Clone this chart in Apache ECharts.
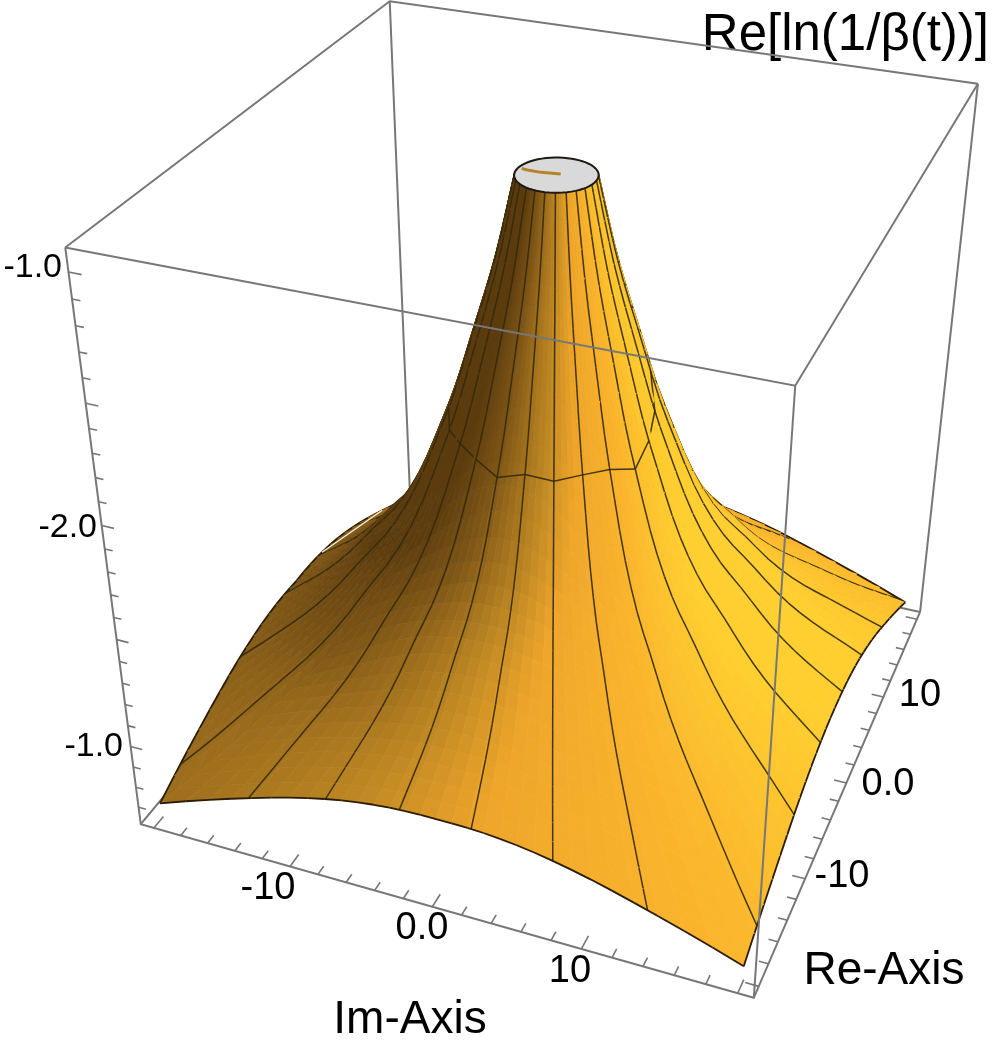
<!DOCTYPE html>
<html>
<head>
<meta charset="utf-8">
<style>
  html, body { margin: 0; background: #fff; }
  #chart-panel { width: 1000px; height: 1048px; }
</style>
<script src="https://cdn.jsdelivr.net/npm/echarts@6/dist/echarts.min.js"></script>
</head>
<body>
<div id="chart-panel"></div>
<script>
// values
const imTicks = [-10, 0, 10];
const imTickLabels = ['-10', '0.0', '10'];
const reTicks = [-10, 0, 10];
const reTickLabels = ['-10', '0.0', '10'];
const zTicks = [-3, -2, -1];
const zTickLabels = ['-1.0', '-2.0', '-1.0'];

// height of the surface against distance from the centre of the Im/Re plane
const profileRho = [2.55, 3.8, 5.4, 6.5, 7.4, 9.2, 11, 13, 15, 17, 20, 24, 28.3];
const profileZ = [-0.97, -1.3, -1.63, -1.85, -2.0, -2.27, -2.46, -2.6, -2.74, -2.85, -2.98, -3.15, -3.31];
// how far the outer part of each side sits off that profile
const trimAngles = [-180, -135, -90, -45, 0, 45, 90, 135, 180];
const trimZ = [0, 0, -0.05, 0, -0.03, 0, 0, 0, 0];

// radial mesh lines (degrees, 0 = towards Re-, positive towards Im+), at the rim and at the outer edge
const rayAngles = [-181.3, -166.9, -152.5, -138.1, -123.7, -109.3, -94.9, -80.5, -66.1, -51.7, -37.3, -22.9, -8.5,
  5.9, 20.3, 34.7, 49.1, 63.5, 77.9, 92.3, 106.7, 121.1, 135.5, 149.9, 164.3];
const rayEdgeAngles = [-181.3, -166.9, -152.5, -138.1, -127, -115, -100, -85, -67, -49.3, -33.5, -20.9, -7.1,
  6.7, 21.1, 34.7, 48.8, 63.2, 77.6, 92.3, 106.7, 121.1, 135.5, 149.9, 164.3];
// the ring contour, one radius per radial line
const ringRho = [6, 6, 6, 6, 6, 6.0, 6.4, 6.6, 6.9, 7.1, 7.1, 7.2, 7.4, 7.2, 7.3, 7.2, 7.2, 7.4, 7.0, 6.6,
  6.0, 6, 6, 6, 6];
const streakIm = [-2.3, -1.8, -1.0, 0.2];
const streakRe = [0.1, 0.0, 0.0, 0.2];
const sliverRe = [4, 14];

const surfaceHalf = 20;
const boxHalf = 21;
const zMin = -3.385, zMax = -0.91;

// where the eight corners of the plot box sit on the page: X, Y, Z (0..1), u, v
const camera = [
  [0, 0, 0, 141, 824], [1, 0, 0, 754, 998], [1, 1, 0, 920, 612], [0, 1, 0, 410, 500],
  [0, 0, 1, 65, 248], [1, 0, 1, 795, 385], [1, 1, 1, 978, 84], [0, 1, 1, 390, 1]
];

function solve(A, b) {
  const n = b.length;
  for (let i = 0; i < n; i++) {
    let p = i;
    for (let r = i + 1; r < n; r++) if (Math.abs(A[r][i]) > Math.abs(A[p][i])) p = r;
    [A[i], A[p]] = [A[p], A[i]];
    [b[i], b[p]] = [b[p], b[i]];
    for (let r = i + 1; r < n; r++) {
      const f = A[r][i] / A[i][i];
      for (let c = i; c < n; c++) A[r][c] -= f * A[i][c];
      b[r] -= f * b[i];
    }
  }
  const x = new Array(n);
  for (let i = n - 1; i >= 0; i--) {
    let s = b[i];
    for (let c = i + 1; c < n; c++) s -= A[i][c] * x[c];
    x[i] = s / A[i][i];
  }
  return x;
}

function fitCamera() {
  const rows = [], rhs = [];
  camera.forEach(function (c) {
    const X = c[0], Y = c[1], Z = c[2], u = c[3], v = c[4];
    rows.push([X, Y, Z, 1, 0, 0, 0, 0, -u * X, -u * Y, -u * Z]); rhs.push(u);
    rows.push([0, 0, 0, 0, X, Y, Z, 1, -v * X, -v * Y, -v * Z]); rhs.push(v);
  });
  const N = [], y = [];
  for (let i = 0; i < 11; i++) {
    N.push([]);
    let s = 0;
    for (let j = 0; j < 11; j++) {
      let t = 0;
      rows.forEach(function (r) { t += r[i] * r[j]; });
      N[i].push(t);
    }
    rows.forEach(function (r, k) { s += r[i] * rhs[k]; });
    y.push(s);
  }
  return solve(N, y);
}
const P = fitCamera();

function project(im, re, z) {
  const X = (im + boxHalf) / (2 * boxHalf), Y = (re + boxHalf) / (2 * boxHalf), Z = (z - zMin) / (zMax - zMin);
  const w = P[8] * X + P[9] * Y + P[10] * Z + 1;
  return [(P[0] * X + P[1] * Y + P[2] * Z + P[3]) / w, (P[4] * X + P[5] * Y + P[6] * Z + P[7]) / w];
}

// view directions in box units, for depth sorting and light
const viewRight = [0.938, 0.346, 0], viewUp = [-0.191, 0.46, 0.867], viewToward = [0.30, -0.813, 0.497];
function depth(im, re, z) {
  return viewToward[0] * (im + boxHalf) / (2 * boxHalf) + viewToward[1] * (re + boxHalf) / (2 * boxHalf) +
    viewToward[2] * 0.964 * (z - zMin) / (zMax - zMin);
}

// smooth reading of the profile table
function slopeAt(i) {
  const a = Math.max(i - 1, 0), b = Math.min(i + 1, profileRho.length - 1);
  return (profileZ[b] - profileZ[a]) / (profileRho[b] - profileRho[a]);
}
function height(rho) {
  let i = 0;
  while (i < profileRho.length - 2 && rho > profileRho[i + 1]) i++;
  const h = profileRho[i + 1] - profileRho[i], t = (rho - profileRho[i]) / h;
  const m0 = slopeAt(i) * h, m1 = slopeAt(i + 1) * h;
  return (2 * t * t * t - 3 * t * t + 1) * profileZ[i] + (t * t * t - 2 * t * t + t) * m0 +
    (-2 * t * t * t + 3 * t * t) * profileZ[i + 1] + (t * t * t - t * t) * m1;
}
function trimAt(phi) {
  let a = phi;
  while (a < -180) a += 360;
  while (a > 180) a -= 360;
  const i = Math.min(Math.floor((a + 180) / 45), trimZ.length - 2);
  const t = (a - trimAngles[i]) / 45;
  return trimZ[i] + (trimZ[i + 1] - trimZ[i]) * t;
}

// brightness of a facet -> colour ramp of the orange surface
const rampStops = [0, 0.2, 0.45, 0.6, 0.8, 0.95];
const rampColors = [[92, 60, 14], [125, 85, 22], [190, 135, 35], [238, 165, 42], [250, 180, 44], [255, 207, 48]];

function shade(im, re) {
  const rho = Math.hypot(im, re);
  // slope over a wide window so the light stays smooth across the mesh
  const w = Math.max(0.1, 0.2 * rho);
  const d = (height(rho + w) - height(Math.max(rho - w, profileRho[0]))) / (rho + w - Math.max(rho - w, profileRho[0]));
  const g = d * (0.964 / (zMax - zMin)) * (2 * boxHalf);
  let n = [-g * im / rho, -g * re / rho, 1];
  const len = Math.hypot(n[0], n[1], n[2]);
  n = n.map(function (v) { return v / len; });
  const dot = function (a) { return a[0] * n[0] + a[1] * n[1] + a[2] * n[2]; };
  const L = 0.62 * dot(viewRight) + 0.35 * dot(viewUp) + 0.4 * dot(viewToward) + 0.17;
  let i = 0;
  while (i < rampStops.length - 2 && L > rampStops[i + 1]) i++;
  const t = Math.max(0, Math.min(1, (L - rampStops[i]) / (rampStops[i + 1] - rampStops[i])));
  const rgb = rampColors[i].map(function (c, k) { return Math.round(c + (rampColors[i + 1][k] - c) * t); });
  return 'rgb(' + rgb.join(',') + ')';
}

function edgeRho(phi) {
  const a = phi * Math.PI / 180;
  return surfaceHalf / Math.max(Math.abs(Math.sin(a)), Math.abs(Math.cos(a)));
}
function surfacePoint(phi, rho) {
  const a = phi * Math.PI / 180;
  const im = rho * Math.sin(a), re = -rho * Math.cos(a);
  const k = Math.min(1, rho / surfaceHalf);
  return [im, re, height(rho) + trimAt(phi) * k * k * k];
}
function rayPoint(i, t) {
  const phi = rayAngles[i] + (rayEdgeAngles[i] - rayAngles[i]) * t;
  return surfacePoint(phi, rimRho + (edgeRho(phi) - rimRho) * t);
}
function ringPoint(i) {
  const t = (ringRho[i] - rimRho) / (edgeRho(rayEdgeAngles[i]) - rimRho);
  return surfacePoint(rayAngles[i] + (rayEdgeAngles[i] - rayAngles[i]) * t, ringRho[i]);
}

const rimRho = profileRho[0];
const backMarks = [], surfaceMarks = [], frontMarks = [];
const boxColor = '#777', meshColor = 'rgba(52,42,14,0.92)';

function line(list, pts, color, width) {
  list.push({ kind: 'line', pts: pts, color: color, width: width });
}
function meshSegment(a, c, color, width) {
  surfaceMarks.push({
    kind: 'line', pts: [a, c], color: color, width: width,
    depth: depth((a[0] + c[0]) / 2, (a[1] + c[1]) / 2, (a[2] + c[2]) / 2) + 0.012
  });
}

// box edges behind and in front of the surface
const b = boxHalf;
line(backMarks, [[-b, -b, zMax], [-b, b, zMax], [b, b, zMax]], boxColor, 2);
line(backMarks, [[-b, b, zMax], [-b, b, zMin]], boxColor, 2);
line(backMarks, [[-b, -b, zMin], [-b, b, zMin], [b, b, zMin]], boxColor, 2);
line(backMarks, [[b, b, zMax], [b, b, zMin]], boxColor, 2);
line(backMarks, [[-b, -b, zMax], [-b, -b, zMin], [b, -b, zMin], [b, b, zMin]], boxColor, 2);
line(frontMarks, [[-b, -b, zMax], [b, -b, zMax], [b, b, zMax]], boxColor, 2);
line(frontMarks, [[b, -b, zMax], [b, -b, zMin]], boxColor, 2);

// ticks
for (let v = -20; v <= 20; v += 2) {
  const major = v % 10 === 0;
  line(backMarks, [[v, -b, zMin], [v, -b + (major ? 1.2 : 0.8), zMin]], boxColor, 1.6);
  line(backMarks, [[b, v, zMin], [b - (major ? 0.85 : 0.6), v, zMin]], boxColor, 1.6);
}
for (let k = -33; k <= -10; k++) {
  const major = k % 5 === 0;
  line(backMarks, [[-b, -b, k / 10], [-b + (major ? 0.85 : 0.55), -b, k / 10]], boxColor, 1.6);
}

// surface facets
const stepPhi = 3, rings = 30;
for (let p = -180; p < 180; p += stepPhi) {
  const e0 = edgeRho(p), e1 = edgeRho(p + stepPhi);
  for (let r = 0; r < rings; r++) {
    const t0 = Math.pow(r / rings, 1.5), t1 = Math.pow((r + 1) / rings, 1.5);
    const pts = [
      surfacePoint(p, rimRho + (e0 - rimRho) * t0), surfacePoint(p, rimRho + (e0 - rimRho) * t1),
      surfacePoint(p + stepPhi, rimRho + (e1 - rimRho) * t1), surfacePoint(p + stepPhi, rimRho + (e1 - rimRho) * t0)
    ];
    const cx = (pts[0][0] + pts[1][0] + pts[2][0] + pts[3][0]) / 4;
    const cy = (pts[0][1] + pts[1][1] + pts[2][1] + pts[3][1]) / 4;
    const cz = (pts[0][2] + pts[1][2] + pts[2][2] + pts[3][2]) / 4;
    surfaceMarks.push({ kind: 'poly', pts: pts, color: shade(cx, cy), depth: depth(cx, cy, cz) });
  }
}

// radial mesh lines
rayAngles.forEach(function (phi, i) {
  for (let r = 0; r < rings; r++) {
    meshSegment(rayPoint(i, Math.pow(r / rings, 1.5)), rayPoint(i, Math.pow((r + 1) / rings, 1.5)), meshColor, 1.5);
  }
});

// ring contour
rayAngles.forEach(function (phi, i) {
  meshSegment(ringPoint(i), ringPoint((i + 1) % rayAngles.length), meshColor, 1.5);
});

// outer edge of the surface
for (let p = -180; p < 180; p += stepPhi) {
  meshSegment(surfacePoint(p, edgeRho(p)), surfacePoint(p + stepPhi, edgeRho(p + stepPhi)), '#2a1c06', 1.8);
}
surfaceMarks.sort(function (m, n) { return m.depth - n.depth; });

// flat cap where the surface is cut off
const rimPts = [];
for (let p = -180; p < 180; p += 6) rimPts.push(surfacePoint(p, rimRho));
frontMarks.unshift({ kind: 'poly', pts: rimPts, color: '#d9d9d9', outline: '#1d1a14', width: 2 });
line(frontMarks, streakIm.map(function (v, i) { return [v, streakRe[i], profileZ[0]]; }), '#b5832c', 3);
// thin gap between facets on the far left
line(frontMarks, sliverRe.map(function (v) {
  return surfacePoint(-Math.atan2(surfaceHalf, -v) * 180 / Math.PI, Math.hypot(surfaceHalf, v));
}), '#f4efe0', 1.3);

const marks = backMarks.concat(surfaceMarks, frontMarks);

function renderMark(params, api) {
  const m = marks[api.value(2)];
  const pts = m.pts.map(function (p) { return api.coord(project(p[0], p[1], p[2])); });
  if (m.kind === 'poly') {
    return {
      type: 'polygon', shape: { points: pts },
      style: { fill: m.color, stroke: m.outline || m.color, lineWidth: m.outline ? m.width : 0.7 }
    };
  }
  return {
    type: 'polyline', shape: { points: pts },
    style: { fill: 'none', stroke: m.color, lineWidth: m.width }
  };
}

function label(text, x, y, size, align) {
  return {
    type: 'text', x: x, y: y, silent: true,
    style: {
      text: text, fill: '#000', font: size + 'px "Liberation Sans", Arial, sans-serif',
      textAlign: align || 'center', textVerticalAlign: 'middle'
    }
  };
}

const zLabelPos = [[123, 747], [97, 528], [62, 268]];
const imLabelPos = [[268, 889], [422, 929], [570, 972]];
const reLabelPos = [[842, 877], [888, 785], [920, 696]];

const labels = [
  label('Re[ln(1/β(t))]', 989, 36, 51, 'right'),
  label('Re-Axis', 884, 971, 46),
  label('Im-Axis', 410, 1020, 46)
];
zTicks.forEach(function (v, i) { labels.push(label(zTickLabels[i], zLabelPos[i][0], zLabelPos[i][1], 34, 'right')); });
imTicks.forEach(function (v, i) { labels.push(label(imTickLabels[i], imLabelPos[i][0], imLabelPos[i][1], 38)); });
reTicks.forEach(function (v, i) { labels.push(label(reTickLabels[i], reLabelPos[i][0], reLabelPos[i][1], 38)); });

const myChart = echarts.init(document.getElementById('chart-panel'), null, { renderer: 'canvas' });
myChart.setOption({
  animation: false,
  backgroundColor: '#fff',
  grid: { left: 0, right: 0, top: 0, bottom: 0 },
  xAxis: { type: 'value', min: 0, max: 1000, show: false },
  yAxis: { type: 'value', min: 0, max: 1048, inverse: true, show: false },
  graphic: labels,
  series: [{
    type: 'custom',
    coordinateSystem: 'cartesian2d',
    renderItem: renderMark,
    silent: true,
    clip: false,
    progressive: 0,
    data: marks.map(function (m, i) { return [0, 0, i]; })
  }]
});
</script>
</body>
</html>
